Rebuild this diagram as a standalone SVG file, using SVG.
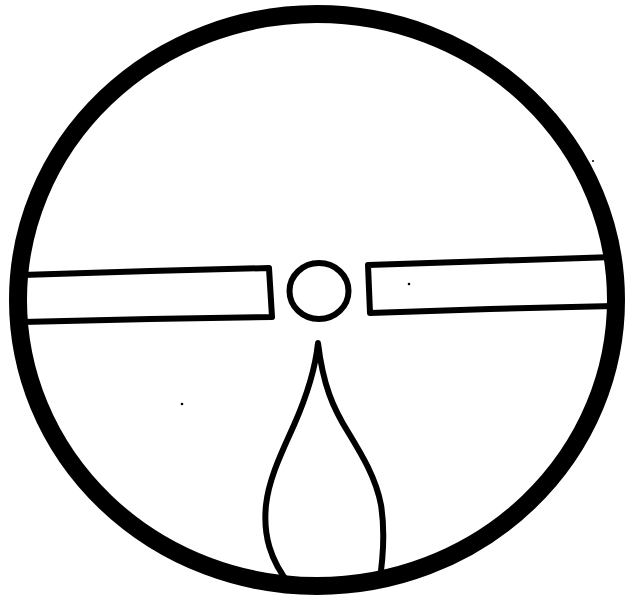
<svg xmlns="http://www.w3.org/2000/svg" width="625" height="598" viewBox="0 0 625 598">
<style>
.thin{fill:none;stroke:#000;stroke-width:6;stroke-linejoin:round;stroke-linecap:round}
.thick{fill:none;stroke:#000;stroke-width:18}
.speck{fill:#000}
</style>
<rect width="625" height="598" fill="#fff"/>
<g id="left-bar">
<path class="thin" d="M22,275 L150,271 L269,268 L272,317 L150,319 L22,322"/>
</g>
<g id="right-bar">
<path class="thin" d="M614,257 L490,261 L368,265 L370,313 L490,309 L614,306"/>
</g>
<g id="hub">
<ellipse class="thin" cx="319" cy="291" rx="29.5" ry="28"/>
</g>
<g id="flame">
<path class="thin" d="M318,343 C315,372 305,400 294,425 C282,452 269,478 266,505 C263,535 270,560 290,585 L379,585 C383,560 385,530 381,505 C376,478 362,455 348,432 C333,408 323,385 318,343 Z"/>
</g>
<g id="rim">
<ellipse class="thick" cx="317" cy="300" rx="299" ry="286"/>
</g>
<g id="specks">
<circle class="speck" cx="182" cy="404" r="1.3"/>
<circle class="speck" cx="409" cy="284" r="1.3"/>
<circle class="speck" cx="593" cy="161" r="1"/>
</g>
</svg>
